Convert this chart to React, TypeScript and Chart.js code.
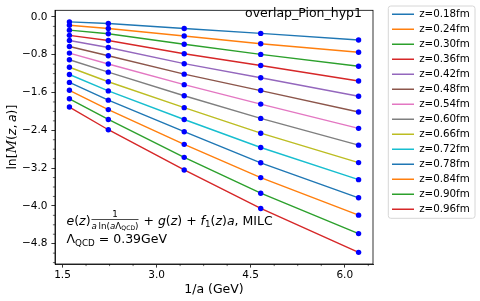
import React, { useEffect, useRef } from 'react';
import { Chart, registerables } from 'chart.js';

Chart.register(...registerables);

const FAM = "'DejaVu Sans', sans-serif";
const SERIF = "'DejaVu Serif', serif";

// 1/a values (GeV) of the lattice ensembles
const invA = [1.61, 2.23, 3.44, 4.66, 6.22];

const zLabels = [
  'z=0.18fm', 'z=0.24fm', 'z=0.30fm', 'z=0.36fm', 'z=0.42fm', 'z=0.48fm', 'z=0.54fm',
  'z=0.60fm', 'z=0.66fm', 'z=0.72fm', 'z=0.78fm', 'z=0.84fm', 'z=0.90fm', 'z=0.96fm',
];

const lineColors = [
  '#1f77b4', '#ff7f0e', '#2ca02c', '#d62728', '#9467bd', '#8c564b', '#e377c2',
  '#7f7f7f', '#bcbd22', '#17becf', '#1f77b4', '#ff7f0e', '#2ca02c', '#d62728',
];

const z018 = [-0.104, -0.14, -0.244, -0.349, -0.489];
const z024 = [-0.175, -0.244, -0.405, -0.568, -0.749];
const z030 = [-0.28, -0.355, -0.578, -0.793, -1.044];
const z036 = [-0.39, -0.5, -0.781, -1.027, -1.357];
const z042 = [-0.5, -0.647, -0.99, -1.288, -1.678];
const z048 = [-0.626, -0.823, -1.211, -1.559, -2.013];
const z054 = [-0.766, -0.996, -1.434, -1.845, -2.359];
const z060 = [-0.906, -1.169, -1.668, -2.148, -2.714];
const z066 = [-1.065, -1.372, -1.921, -2.461, -3.084];
const z072 = [-1.219, -1.566, -2.171, -2.764, -3.445];
const z078 = [-1.386, -1.762, -2.43, -3.088, -3.829];
const z084 = [-1.553, -1.962, -2.697, -3.401, -4.196];
const z090 = [-1.733, -2.171, -2.973, -3.731, -4.587];
const z096 = [-1.908, -2.388, -3.24, -4.054, -4.983];

const seriesValues = [z018, z024, z030, z036, z042, z048, z054, z060, z066, z072, z078, z084, z090, z096];

const xTickValues = [1.5, 3.0, 4.5, 6.0];
const yTickValues = [0.0, -0.8, -1.6, -2.4, -3.2, -4.0, -4.8];

const X_MIN = 1.38, X_MAX = 6.45;
const Y_MIN = -5.23, Y_MAX = 0.14;

const titleText = 'overlap_Pion_hyp1';

type Run = { t: string; f: string; dy?: number };

function runsWidth(ctx: CanvasRenderingContext2D, runs: Run[]) {
  let w = 0;
  for (const r of runs) { ctx.font = r.f; w += ctx.measureText(r.t).width; }
  return w;
}
function drawRuns(ctx: CanvasRenderingContext2D, runs: Run[], x: number, y: number) {
  for (const r of runs) {
    ctx.font = r.f;
    ctx.fillText(r.t, x, y + (r.dy || 0));
    x += ctx.measureText(r.t).width;
  }
  return x;
}

const overlayPlugin = {
  id: 'overlay',
  afterLayout(chart: any) {
    const lg = chart.legend;
    if (lg) {
      lg.left = 387.3;
      lg.right = lg.left + lg.width;
      lg.top = 4.45;
      lg.bottom = 301;
      lg.height = lg.bottom - lg.top;
    }
  },
  afterDraw(chart: any) {
    const ctx: CanvasRenderingContext2D = chart.ctx;
    const ca = chart.chartArea;
    const xs = chart.scales.x;
    const ys = chart.scales.y;
    ctx.save();
    // spines
    ctx.strokeStyle = '#000';
    ctx.lineWidth = 0.8;
    ctx.strokeRect(ca.left, ca.top, ca.right - ca.left, ca.bottom - ca.top);
    // minor ticks
    ctx.lineWidth = 0.6;
    ctx.beginPath();
    for (let k = -4; k <= 20; k++) {
      if (k % 4 === 0) continue;
      const v = 1.5 + k * 0.375;
      if (v < X_MIN || v > X_MAX) continue;
      const px = xs.getPixelForValue(v);
      ctx.moveTo(px, ca.bottom);
      ctx.lineTo(px, ca.bottom + 2.1);
    }
    for (let k = -30; k <= 2; k++) {
      if (k % 4 === 0) continue;
      const v = k * 0.2;
      if (v < Y_MIN || v > Y_MAX) continue;
      const py = ys.getPixelForValue(v);
      ctx.moveTo(ca.left - 2.1, py);
      ctx.lineTo(ca.left, py);
    }
    ctx.stroke();

    // legend frame
    const lx = 388.3, ly = 6, lw = 475 - 388.3, lh = 218.3 - 6, r = 2.5;
    ctx.strokeStyle = '#d6d6d6';
    ctx.lineWidth = 1;
    ctx.beginPath();
    ctx.moveTo(lx + r, ly);
    ctx.lineTo(lx + lw - r, ly);
    ctx.arcTo(lx + lw, ly, lx + lw, ly + r, r);
    ctx.lineTo(lx + lw, ly + lh - r);
    ctx.arcTo(lx + lw, ly + lh, lx + lw - r, ly + lh, r);
    ctx.lineTo(lx + r, ly + lh);
    ctx.arcTo(lx, ly + lh, lx, ly + lh - r, r);
    ctx.lineTo(lx, ly + r);
    ctx.arcTo(lx, ly, lx + r, ly, r);
    ctx.closePath();
    ctx.stroke();

    // title inside axes
    ctx.fillStyle = '#000';
    ctx.textBaseline = 'alphabetic';
    ctx.textAlign = 'right';
    ctx.font = `12.5px ${FAM}`;
    ctx.fillText(titleText, ca.right - 11, 17);

    // formula annotation
    ctx.textAlign = 'left';
    const S = 12.5, s2 = 8.75, s3 = 6.1;
    const up = (s: number) => `${s}px ${FAM}`;
    const it = (s: number) => `italic ${s}px ${FAM}`;
    const y1 = 224.5;
    let x = 66.5;
    x = drawRuns(ctx, [
      { t: 'e', f: it(S) }, { t: '(', f: up(S) }, { t: 'z', f: it(S) }, { t: ')', f: up(S) },
    ], x, y1);
    const den: Run[] = [
      { t: 'a', f: it(s2) }, { t: '\u2009ln(', f: up(s2) }, { t: 'a', f: it(s2) },
      { t: '\u039B', f: up(s2) }, { t: 'QCD', f: up(s3), dy: 1.5 }, { t: ')', f: up(s2) },
    ];
    const dw = runsWidth(ctx, den);
    const fx = x + 1;
    drawRuns(ctx, den, fx, 228.8);
    ctx.font = up(s2);
    const nw = ctx.measureText('1').width;
    ctx.fillText('1', fx + (dw - nw) / 2, 216.8);
    ctx.fillRect(fx, 219.0, dw, 0.7);
    x = fx + dw + 1;
    drawRuns(ctx, [
      { t: ' + ', f: up(S) }, { t: 'g', f: it(S) }, { t: '(', f: up(S) }, { t: 'z', f: it(S) },
      { t: ') + ', f: up(S) }, { t: 'f', f: it(S) }, { t: '1', f: up(s2), dy: 2.5 },
      { t: '(', f: up(S) }, { t: 'z', f: it(S) }, { t: ')', f: up(S) }, { t: 'a', f: it(S) },
      { t: ', MILC', f: up(S) },
    ], x, y1);
    drawRuns(ctx, [
      { t: '\u039B', f: up(S) }, { t: 'QCD', f: up(s2), dy: 2.5 }, { t: ' = 0.39GeV', f: up(S) },
    ], 66.5, 243);

    // y-axis label  ln[M(z, a)]
    const yl: Run[] = [
      { t: 'ln[', f: up(S) }, { t: 'M', f: `italic ${S + 0.5}px ${SERIF}` }, { t: '(', f: up(S) },
      { t: 'z', f: it(S) }, { t: ',\u2009', f: up(S) }, { t: 'a', f: it(S) }, { t: ')]', f: up(S) },
    ];
    const yw = runsWidth(ctx, yl);
    const cy = (ca.top + ca.bottom) / 2;
    ctx.translate(16, cy);
    ctx.rotate(-Math.PI / 2);
    drawRuns(ctx, yl, -yw / 2, 0);
    ctx.restore();
  },
};

export default function App() {
  const canvasRef = useRef<HTMLCanvasElement | null>(null);

  useEffect(() => {
    const canvas = canvasRef.current;
    if (!canvas) return;
    Chart.defaults.font.family = FAM;
    Chart.defaults.color = '#000';

    const datasets = seriesValues.map((vals, i) => ({
      label: zLabels[i],
      data: vals.map((v, j) => ({ x: invA[j], y: v })),
      borderColor: lineColors[i],
      backgroundColor: lineColors[i],
      borderWidth: 1.4,
      pointRadius: 2.7,
      pointBorderWidth: 0,
      pointBackgroundColor: '#0000ff',
      pointBorderColor: '#0000ff',
      pointHoverRadius: 2.7,
      tension: 0,
      fill: false,
    }));

    const chart = new Chart(canvas, {
      type: 'line',
      data: { datasets },
      plugins: [overlayPlugin],
      options: {
        responsive: false,
        animation: false,
        events: [],
        layout: { padding: { left: 0, right: 20, top: 6, bottom: 0 } },
        plugins: {
          tooltip: { enabled: false },
          legend: {
            position: 'right',
            align: 'start',
            maxWidth: 87,
            labels: {
              usePointStyle: true,
              pointStyle: 'line',
              pointStyleWidth: 22,
              padding: 4.7,
              color: '#000',
              font: { size: 10.3, family: FAM },
              generateLabels: (ch: any) =>
                ch.data.datasets.map((ds: any, i: number) => ({
                  text: ds.label,
                  strokeStyle: ds.borderColor,
                  fillStyle: ds.borderColor,
                  fontColor: '#000',
                  lineWidth: 1.4,
                  pointStyle: 'line',
                  hidden: false,
                  datasetIndex: i,
                })),
            },
          },
        },
        scales: {
          x: {
            type: 'linear',
            min: X_MIN,
            max: X_MAX,
            afterBuildTicks: (s: any) => { s.ticks = xTickValues.map((v) => ({ value: v })); },
            afterFit: (s: any) => { s.height = 37; },
            ticks: {
              color: '#000',
              padding: 1,
              font: { size: 10.5, family: FAM },
              callback: (v: any) => Number(v).toFixed(1),
            },
            grid: { drawOnChartArea: false, drawTicks: true, tickLength: 3.6, tickColor: '#000', tickWidth: 0.8 },
            border: { color: '#000', width: 0.8 },
            title: {
              display: true,
              text: '1/a (GeV)',
              color: '#000',
              font: { size: 12.5, family: FAM },
              padding: { top: 0, bottom: 3.5 },
            },
          },
          y: {
            type: 'linear',
            min: Y_MIN,
            max: Y_MAX,
            afterBuildTicks: (s: any) => { s.ticks = yTickValues.map((v) => ({ value: v })); },
            afterFit: (s: any) => { s.width = 55; },
            ticks: {
              color: '#000',
              padding: 4,
              font: { size: 10.5, family: FAM },
              callback: (v: any) => {
                const n = Number(v);
                const t = Math.abs(n) < 1e-9 ? '0.0' : n.toFixed(1);
                return t.replace('-', '\u2212');
              },
            },
            grid: { drawOnChartArea: false, drawTicks: true, tickLength: 3.6, tickColor: '#000', tickWidth: 0.8 },
            border: { color: '#000', width: 0.8 },
            title: { display: false },
          },
        },
      } as any,
    });
    return () => chart.destroy();
  }, []);

  return (
    <div style={{ position: 'absolute', left: 0, top: 0, width: 480, height: 301, background: '#fff' }}>
      <canvas ref={canvasRef} width={480} height={301} style={{ display: 'block', width: 480, height: 301 }} />
    </div>
  );
}
